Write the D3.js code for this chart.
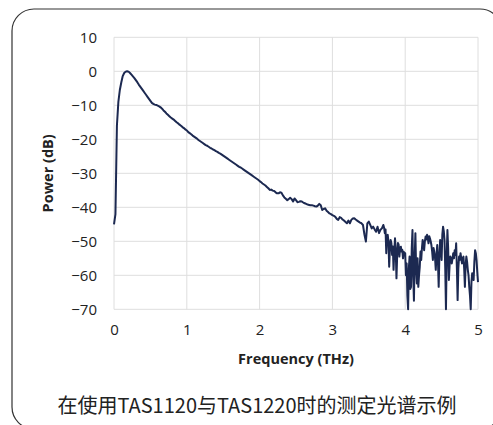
<!DOCTYPE html>
<html>
<head>
<meta charset="utf-8">
<script src="https://cdn.jsdelivr.net/npm/d3@7"></script>
<style>
  body { margin: 0; background: #fff; }
  text { font-family: "Open Sans", "Noto Sans", sans-serif; fill: #222; }
</style>
</head>
<body>
<svg id="chart" width="493" height="425"></svg>
<script>
// spectrum: 0 - 3.68 THz sampled every 0.02 THz
const lowStep = 0.02;
const powerLow = [
  -45, -42, -16, -9, -5.5, -3.3, -1.4, -0.5, -0.1, 0,
  -0.1, -0.5, -1.0, -1.5, -2.0, -2.6, -3.2, -3.9, -4.5, -5.1,
  -5.7, -6.3, -6.9, -7.5, -8.1, -8.7, -9.3, -9.6, -9.8, -9.9,
  -10.1, -10.3, -10.6, -11.0, -11.5, -11.9, -12.4, -12.8, -13.2, -13.6,
  -13.9, -14.2, -14.6, -15.0, -15.3, -15.7, -16.0, -16.4, -16.7, -17.1,
  -17.4, -17.9, -18.2, -18.5, -18.9, -19.2, -19.5, -19.8, -20.2, -20.5,
  -20.8, -21.1, -21.4, -21.7, -21.9, -22.2, -22.5, -22.7, -23.0, -23.2,
  -23.5, -23.7, -24.0, -24.2, -24.5, -24.8, -25.1, -25.4, -25.7, -26.0,
  -26.3, -26.6, -26.9, -27.2, -27.5, -27.8, -28.1, -28.3, -28.6, -28.9,
  -29.2, -29.5, -29.8, -30.1, -30.4, -30.7, -31.0, -31.3, -31.6, -31.9,
  -32.3, -32.6, -33.0, -33.3, -33.6, -34.0, -34.4, -34.9, -34.8, -35.1,
  -35.2, -35.6, -35.9, -35.9, -35.6, -35.7, -36.5, -37.1, -37.5, -37.9,
  -37.6, -37.2, -37.6, -38.3, -37.4, -37.9, -38.5, -38.4, -38.2, -38.3,
  -38.6, -38.8, -39.0, -39.2, -39.3, -39.4, -39.4, -39.5, -39.7, -39.8,
  -39.5, -39.0, -39.4, -40.8, -40.5, -40.3, -41.0, -41.4, -41.8, -42.0,
  -42.3, -42.5, -42.8, -43.4, -43.7, -42.9, -43.1, -43.6, -43.9, -44.3,
  -44.7, -43.9, -44.7, -43.7, -43.3, -43.2, -43.6, -43.9, -44.2, -44.5,
  -44.7, -45.2, -48.0, -50.1, -44.7, -44.2, -45.2, -46.2, -45.7, -46.5,
  -47.2, -45.7, -47.6, -46.6, -46.2
];
// noisy tail: 3.70 - 5.00 THz sampled every 0.01 THz
const highStart = 3.70;
const highStep = 0.01;
const powerHigh = [
  -45.2, -46.0, -47.6, -46.5, -53.5, -48.5, -48.1, -50.0, -57.5, -52.0,
  -49.6, -50.5, -54.0, -51.5, -58.4, -53.0, -49.1, -52.5, -60.9, -54.0,
  -50.5, -51.0, -54.5, -52.0, -51.6, -53.0, -52.5, -55.0, -53.1, -54.0,
  -53.5, -60.0, -56.5, -66.0, -70.0, -58.0, -54.5, -64.0, -63.4, -52.0,
  -46.7, -60.0, -67.5, -55.0, -47.6, -58.0, -62.4, -55.0, -63.4, -60.0,
  -57.5, -53.0, -55.5, -52.0, -49.6, -51.0, -52.6, -50.0, -48.6, -49.5,
  -48.1, -49.0, -50.6, -48.5, -49.1, -50.0, -51.1, -53.0, -55.5, -52.0,
  -53.1, -55.0, -58.4, -54.0, -51.1, -56.0, -63.4, -54.0, -49.6, -52.0,
  -55.5, -48.0, -45.7, -47.0, -49.6, -58.0, -70.0, -54.0, -46.7, -52.0,
  -61.4, -57.0, -54.5, -55.0, -56.5, -55.0, -53.5, -55.0, -52.6, -54.0,
  -50.6, -58.0, -67.3, -58.0, -54.5, -55.5, -53.5, -55.0, -56.5, -55.0,
  -54.5, -58.0, -63.4, -57.0, -54.5, -56.0, -58.4, -60.0, -63.4, -66.0,
  -70.0, -62.0, -59.4, -60.0, -61.4, -56.0, -52.6, -53.5, -55.5, -59.0,
  -62.0
];
const xTicks = [0, 1, 2, 3, 4, 5];
const yTicks = [-70, -60, -50, -40, -30, -20, -10, 0, 10];
const xTitle = "Frequency (THz)";
const yTitle = "Power (dB)";
const caption = "在使用TAS1120与TAS1220时的测定光谱示例";

const data = powerLow.map((p, i) => ({ f: i * lowStep, p: p }))
  .concat(powerHigh.map((p, i) => ({ f: highStart + i * highStep, p: p })));

const svg = d3.select("#chart");

// card border
svg.append("rect")
  .attr("x", 12).attr("y", 9)
  .attr("width", 490).attr("height", 420)
  .attr("rx", 22)
  .attr("fill", "none")
  .attr("stroke", "#333")
  .attr("stroke-width", 1.2);

const plotLeft = 114, plotRight = 478, plotTop = 37.3, plotBottom = 309.3;

const x = d3.scaleLinear().domain([0, 5]).range([plotLeft, plotRight]);
const y = d3.scaleLinear().domain([-70, 10]).range([plotBottom, plotTop]);

// grid
svg.append("g")
  .selectAll("line")
  .data(yTicks)
  .enter().append("line")
  .attr("x1", plotLeft).attr("x2", plotRight)
  .attr("y1", d => y(d)).attr("y2", d => y(d))
  .attr("stroke", "#dedede").attr("stroke-width", 1);

svg.append("g")
  .selectAll("line")
  .data(xTicks)
  .enter().append("line")
  .attr("y1", plotTop).attr("y2", plotBottom)
  .attr("x1", d => x(d)).attr("x2", d => x(d))
  .attr("stroke", "#dedede").attr("stroke-width", 1);

// axes (labels only)
const yAxis = svg.append("g")
  .attr("transform", `translate(${plotLeft},0)`)
  .call(d3.axisLeft(y).tickValues(yTicks).tickFormat(d3.format("d")).tickSize(0).tickPadding(17));
yAxis.select(".domain").remove();
yAxis.selectAll("text")
  .style("font-family", '"Open Sans", sans-serif')
  .style("font-size", "15px")
  .attr("fill", "#222");

const xAxis = svg.append("g")
  .attr("transform", `translate(0,${plotBottom})`)
  .call(d3.axisBottom(x).tickValues(xTicks).tickFormat(d3.format("d")).tickSize(0).tickPadding(15));
xAxis.select(".domain").remove();
xAxis.selectAll("text")
  .style("font-family", '"Open Sans", sans-serif')
  .style("font-size", "15px")
  .attr("fill", "#222");

// line
svg.append("path")
  .datum(data)
  .attr("fill", "none")
  .attr("stroke", "#1c2951")
  .attr("stroke-width", 2)
  .attr("stroke-linejoin", "round")
  .attr("d", d3.line().x(d => x(d.f)).y(d => y(d.p)));

// titles
svg.append("text")
  .attr("x", (plotLeft + plotRight) / 2).attr("y", 364)
  .attr("text-anchor", "middle")
  .style("font-size", "14.5px").style("font-weight", "bold")
  .text(xTitle);

svg.append("text")
  .attr("transform", `translate(53,${(plotTop + plotBottom) / 2}) rotate(-90)`)
  .attr("text-anchor", "middle")
  .style("font-size", "14.5px").style("font-weight", "bold")
  .text(yTitle);

svg.append("text")
  .attr("x", 257).attr("y", 404)
  .attr("text-anchor", "middle")
  .attr("dominant-baseline", "central")
  .style("font-family", '"Noto Sans CJK SC", sans-serif')
  .style("font-size", "20px")
  .text(caption);
</script>
</body>
</html>
